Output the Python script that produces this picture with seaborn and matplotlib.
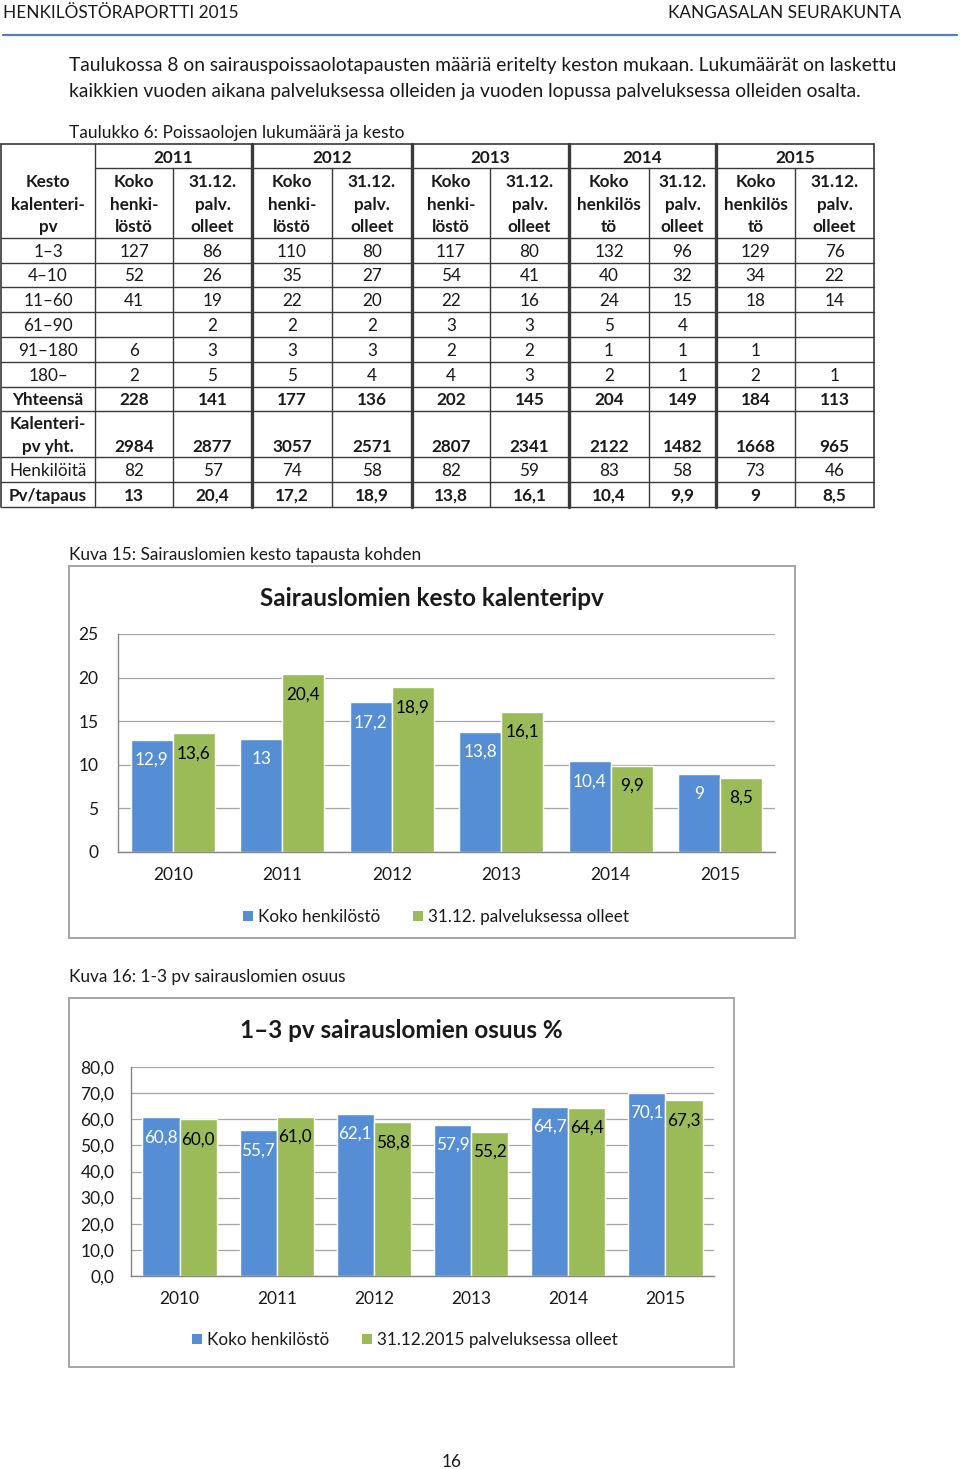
import matplotlib
matplotlib.use("Agg")
import matplotlib.pyplot as plt
import seaborn as sns
import pandas as pd
import numpy as np
from matplotlib.patches import Rectangle, Patch

# ---------------- data ----------------
header_left = "HENKILÖSTÖRAPORTTI 2015"
header_right = "KANGASALAN SEURAKUNTA"
intro_lines = [
    "Taulukossa 8 on sairauspoissaolotapausten määriä eritelty keston mukaan. Lukumäärät on laskettu",
    "kaikkien vuoden aikana palveluksessa olleiden ja vuoden lopussa palveluksessa olleiden osalta.",
]
table_caption = "Taulukko 6: Poissaolojen lukumäärä ja kesto"
table_years = ["2011", "2012", "2013", "2014", "2015"]
first_head = ["Kesto", "kalenteri-", "pv"]
sub_heads = [
    ["Koko", "henki-", "löstö"], ["31.12.", "palv.", "olleet"],
    ["Koko", "henki-", "löstö"], ["31.12.", "palv.", "olleet"],
    ["Koko", "henki-", "löstö"], ["31.12.", "palv.", "olleet"],
    ["Koko", "henkilös", "tö"], ["31.12.", "palv.", "olleet"],
    ["Koko", "henkilös", "tö"], ["31.12.", "palv.", "olleet"],
]
row_labels = ["1–3", "4–10", "11–60", "61–90", "91–180", "180–",
              "Yhteensä", "Kalenteri-\npv yht.", "Henkilöitä", "Pv/tapaus"]
row_bold = [False, False, False, False, False, False, True, True, False, True]
table_values = [
    ["127", "86", "110", "80", "117", "80", "132", "96", "129", "76"],
    ["52", "26", "35", "27", "54", "41", "40", "32", "34", "22"],
    ["41", "19", "22", "20", "22", "16", "24", "15", "18", "14"],
    ["", "2", "2", "2", "3", "3", "5", "4", "", ""],
    ["6", "3", "3", "3", "2", "2", "1", "1", "1", ""],
    ["2", "5", "5", "4", "4", "3", "2", "1", "2", "1"],
    ["228", "141", "177", "136", "202", "145", "204", "149", "184", "113"],
    ["2984", "2877", "3057", "2571", "2807", "2341", "2122", "1482", "1668", "965"],
    ["82", "57", "74", "58", "82", "59", "83", "58", "73", "46"],
    ["13", "20,4", "17,2", "18,9", "13,8", "16,1", "10,4", "9,9", "9", "8,5"],
]

years = ["2010", "2011", "2012", "2013", "2014", "2015"]

chart1_caption = "Kuva 15: Sairauslomien kesto tapausta kohden"
chart1_title = "Sairauslomien kesto kalenteripv"
chart1_series = ["Koko henkilöstö", "31.12. palveluksessa olleet"]
kesto_koko = [12.9, 13.0, 17.2, 13.8, 10.4, 9.0]
kesto_3112 = [13.6, 20.4, 18.9, 16.1, 9.9, 8.5]

chart2_caption = "Kuva 16: 1-3 pv sairauslomien osuus"
chart2_title = "1–3 pv sairauslomien osuus %"
chart2_series = ["Koko henkilöstö", "31.12.2015 palveluksessa olleet"]
osuus_koko = [60.8, 55.7, 62.1, 57.9, 64.7, 70.1]
osuus_3112 = [60.0, 61.0, 58.8, 55.2, 64.4, 67.3]

page_number = "16"

# ---------------- style ----------------
sns.set_style("white")
FONT = ["Lato", "DejaVu Sans"]
plt.rcParams["font.family"] = FONT
BLUE = "#558ED5"
GREEN = "#9BBB59"
TXT = "#1a1a1a"
GRID = "#a6a6a6"
AX = "#868686"

W, H = 960, 1469
fig = plt.figure(figsize=(W / 100, H / 100), dpi=100)
fig.patch.set_facecolor("white")

page = fig.add_axes([0, 0, 1, 1], zorder=0)
page.set_xlim(0, W)
page.set_ylim(H, 0)
page.axis("off")


def ptxt(x, y, s, size=12, ha="left", bold=False, color=TXT):
    page.text(x, y, s, fontsize=size, ha=ha, va="center",
              fontweight="bold" if bold else "normal", color=color)


# header
ptxt(3, 13, header_left, size=12.4)
ptxt(901, 13, header_right, size=12.4, ha="right")
page.plot([3, 957], [35, 35], color="#4f81bd", lw=1.6)

# intro
ptxt(69, 65, intro_lines[0], size=13.85)
ptxt(69, 91, intro_lines[1], size=13.85)
ptxt(69, 133, table_caption, size=12.5)

# ---------------- table ----------------
col_x = [1, 95, 173, 252, 332, 412, 490, 569, 649, 716, 795, 874]
row_y = [144, 168, 238, 263, 287, 312, 337, 362, 387, 411, 457, 482, 507]
LC = "#3a3a3a"
TS = 12.3
# horizontal lines
page.plot([col_x[0], col_x[-1]], [row_y[0], row_y[0]], color=LC, lw=1.2)
page.plot([col_x[1], col_x[-1]], [row_y[1], row_y[1]], color=LC, lw=1.0)
for y in row_y[2:]:
    page.plot([col_x[0], col_x[-1]], [y, y], color=LC, lw=1.0)
# vertical lines
thick = {95: 1.0, 252: 2.4, 412: 2.4, 569: 2.4, 716: 2.4}
for i, x in enumerate(col_x):
    if i in (0, len(col_x) - 1):
        page.plot([x, x], [row_y[0], row_y[-1]], color=LC, lw=1.2)
    elif x in thick:
        page.plot([x, x], [row_y[0], row_y[-1]], color=LC, lw=thick[x])
    else:
        page.plot([x, x], [row_y[1], row_y[-1]], color=LC, lw=1.0)

# years
for k, yr in enumerate(table_years):
    cx = (col_x[1 + 2 * k] + col_x[3 + 2 * k]) / 2
    ptxt(cx, 158, yr, size=TS, ha="center", bold=True)
# header lines
head_line_y = [182, 205, 227]
fx = (col_x[0] + col_x[1]) / 2
for s, y in zip(first_head, head_line_y):
    ptxt(fx, y, s, size=TS, ha="center", bold=True)
for j, sh in enumerate(sub_heads):
    cx = (col_x[1 + j] + col_x[2 + j]) / 2
    for s, y in zip(sh, head_line_y):
        ptxt(cx, y, s, size=TS, ha="center", bold=True)
# body rows
for r, (lab, vals, b) in enumerate(zip(row_labels, table_values, row_bold)):
    y0, y1 = row_y[2 + r], row_y[3 + r]
    if "\n" in lab:
        l1, l2 = lab.split("\n")
        ptxt(fx, y0 + 13, l1, size=TS, ha="center", bold=b)
        ptxt(fx, y1 - 10, l2, size=TS, ha="center", bold=b)
        vy = y1 - 10
    else:
        vy = (y0 + y1) / 2 + 1
        ptxt(fx, vy, lab, size=TS, ha="center", bold=b)
    for j, v in enumerate(vals):
        cx = (col_x[1 + j] + col_x[2 + j]) / 2
        ptxt(cx, vy, v, size=TS, ha="center", bold=b)


# ---------------- charts ----------------
def fmt_g(v):
    return ("%g" % v).replace(".", ",")


def fmt_1(v):
    return ("%.1f" % v).replace(".", ",")


def make_chart(box, axpos, caption, cap_y, title, title_xy, series, s1, s2,
               ylim, ystep, yfmt, labfmt, width, legend_xy, ypad):
    ptxt(69, cap_y, caption, size=12.4)
    bx0, by0, bx1, by1 = box
    page.add_patch(Rectangle((bx0, by0), bx1 - bx0, by1 - by0, fill=False,
                             edgecolor="#a6a6a6", lw=1.4))
    ptxt(title_xy[0], title_xy[1], title, size=17.5, ha="center", bold=True)
    l, r, t, b = axpos
    ax = fig.add_axes([l / W, 1 - b / H, (r - l) / W, (b - t) / H], zorder=2)
    ax.patch.set_alpha(0)
    df = pd.DataFrame({
        "year": years * 2,
        "series": [series[0]] * len(years) + [series[1]] * len(years),
        "value": list(s1) + list(s2),
    })
    sns.barplot(data=df, x="year", y="value", hue="series", hue_order=series,
                palette=[BLUE, GREEN], saturation=1, width=width,
                errorbar=None, legend=False, ax=ax)
    ax.set_xlim(-0.5, len(years) - 0.5)
    ax.set_ylim(*ylim)
    ax.set_yticks(np.arange(ylim[0], ylim[1] + ystep / 2, ystep))
    ax.yaxis.set_major_formatter(plt.FuncFormatter(lambda v, p: yfmt(v)))
    ax.set_xlabel("")
    ax.set_ylabel("")
    ax.yaxis.grid(True, color=GRID, lw=0.9)
    ax.xaxis.grid(False)
    ax.set_axisbelow(True)
    for sp in ("top", "right"):
        ax.spines[sp].set_visible(False)
    for sp in ("left", "bottom"):
        ax.spines[sp].set_color(AX)
        ax.spines[sp].set_linewidth(1.0)
    ax.tick_params(axis="x", which="major", length=0, pad=11, labelsize=12.5,
                   labelcolor=TXT)
    ax.set_xticks(np.arange(-0.5, len(years), 1), minor=True)
    ax.tick_params(axis="x", which="minor", length=6, color=AX, direction="out")
    ax.tick_params(axis="y", length=5, color=AX, direction="out", pad=ypad,
                   labelsize=12.5, labelcolor=TXT)
    for cont, vals, col in zip(ax.containers, (s1, s2), ("white", "black")):
        for bar, v in zip(cont, vals):
            ax.annotate(labfmt(v), (bar.get_x() + bar.get_width() / 2, bar.get_height()),
                        xytext=(0, -14.5), textcoords="offset points",
                        ha="center", va="center", color=col, fontsize=12.3)
    handles = [Patch(facecolor=BLUE, edgecolor="none"),
               Patch(facecolor=GREEN, edgecolor="none")]
    fig.legend(handles, series, loc="center",
               bbox_to_anchor=(legend_xy[0] / W, 1 - legend_xy[1] / H),
               ncol=2, frameon=False, fontsize=12.3, handlelength=0.6,
               handleheight=0.6, handletextpad=0.3, columnspacing=1.9,
               labelcolor=TXT)
    return ax


make_chart(box=(69, 566, 795, 938), axpos=(118, 775, 634, 852),
           caption=chart1_caption, cap_y=555, title=chart1_title,
           title_xy=(432, 598), series=chart1_series, s1=kesto_koko, s2=kesto_3112,
           ylim=(0, 25), ystep=5, yfmt=lambda v: "%d" % v, labfmt=fmt_g,
           width=0.77, legend_xy=(436, 917), ypad=9)

make_chart(box=(69, 998, 734, 1367), axpos=(131, 714, 1067, 1276),
           caption=chart2_caption, cap_y=977, title=chart2_title,
           title_xy=(401, 1030), series=chart2_series, s1=osuus_koko, s2=osuus_3112,
           ylim=(0, 80), ystep=10, yfmt=fmt_1, labfmt=fmt_1,
           width=0.765, legend_xy=(405, 1340), ypad=7)

ptxt(452, 1462, page_number, size=12.3, ha="center")

fig.savefig("out.png", dpi=100, facecolor="white")
